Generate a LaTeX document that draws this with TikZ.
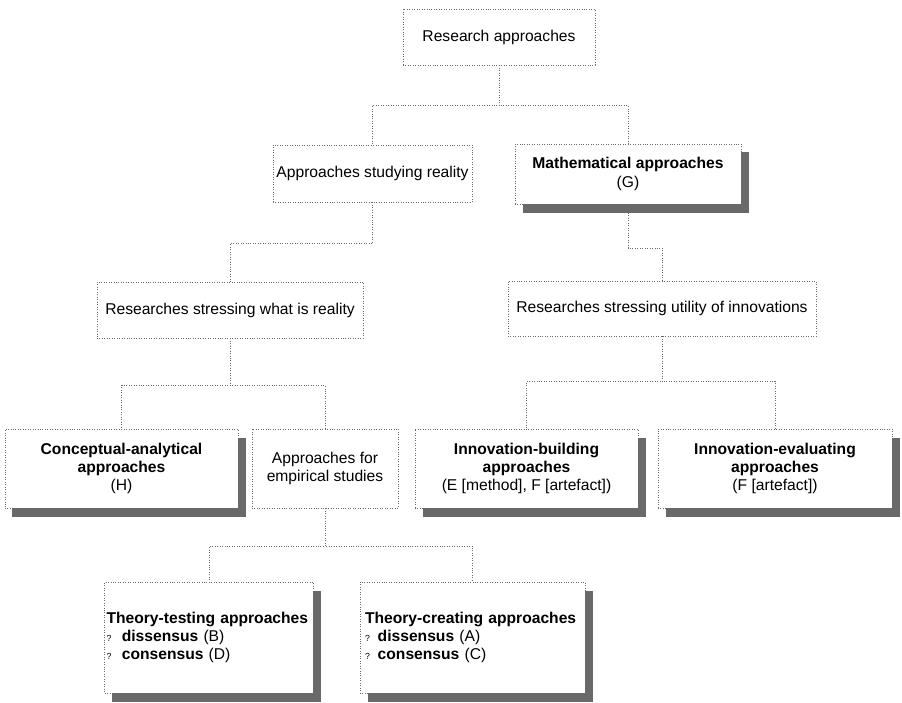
\documentclass[tikz,border=0pt]{standalone}
\usepackage{fontspec}
\setmainfont{Liberation Sans}
\usetikzlibrary{positioning,shadows}
\definecolor{edgecol}{RGB}{105,105,105}
\definecolor{shadecol}{RGB}{105,105,105}

\begin{document}
\begin{tikzpicture}[
  bx/.style={rectangle, draw=edgecol, densely dotted, thin, fill=white,
             font=\fontsize{8.9}{10.4}\selectfont, align=center, inner sep=2pt},
  sh/.style={bx, drop shadow={shadow xshift=0.15cm, shadow yshift=-0.17cm,
             fill=shadecol, opacity=1}},
  ln/.style={draw=edgecol, densely dotted, thin},
]
\useasboundingbox (0,0) rectangle (18.04,-14.06);

\node[bx, minimum width=3.84cm, minimum height=1.12cm] (ra)   at (9.98,-0.74) {Research approaches};
\node[bx, minimum width=3.86cm, minimum height=1.14cm] (real) at (7.45,-3.47) {Approaches studying reality};
\node[sh, minimum width=4.52cm, minimum height=1.2cm]  (math) at (12.56,-3.48) {\textbf{Mathematical approaches}\\(G)};
\node[bx, minimum width=5.32cm, minimum height=1.12cm] (what) at (4.6,-6.2) {Researches stressing what is reality};
\node[bx, minimum width=6.16cm, minimum height=1.1cm]  (util) at (13.24,-6.17) {Researches stressing utility of innovations};

\node[sh, minimum width=4.66cm, minimum height=1.58cm] (concept) at (2.43,-9.37)
  {\textbf{Conceptual-analytical}\\\textbf{approaches}\\(H)};
\node[bx, minimum width=2.92cm, minimum height=1.58cm] (empir) at (6.5,-9.37)
  {Approaches for\\empirical studies};
\node[sh, minimum width=4.46cm, minimum height=1.58cm] (build) at (10.53,-9.37)
  {\textbf{Innovation-building}\\\textbf{approaches}\\(E [method], F [artefact])};
\node[sh, minimum width=4.68cm, minimum height=1.58cm] (evalu) at (15.5,-9.37)
  {\textbf{Innovation-evaluating}\\\textbf{approaches}\\(F [artefact])};

\node[sh, minimum width=4.16cm, minimum height=2.22cm, text width=4.1cm, inner xsep=1pt, align=left] (test) at (4.18,-12.75)
  {\textbf{Theory-testing approaches}\\{\tiny ?}\ \ \textbf{dissensus} (B)\\{\tiny ?}\ \ \textbf{consensus} (D)};
\node[sh, minimum width=4.5cm, minimum height=2.22cm, text width=4.3cm, align=left] (create) at (9.45,-12.75)
  {\textbf{Theory-creating approaches}\\{\tiny ?} \textbf{dissensus} (A)\\{\tiny ?} \textbf{consensus} (C)};

% tree links
\foreach \a/\b/\d in {ra/real/0.8, ra/math/0.8, real/what/0.82,
                      what/concept/0.94, what/empir/0.94,
                      util/build/0.9, util/evalu/0.9,
                      empir/test/0.76, empir/create/0.76}
  \draw[ln] (\a.south) -- ++(0,-\d) -| (\b.north);
\draw[ln] ([yshift=-0.17cm]math.south) -- ++(0,-0.7) -| (util.north);
\end{tikzpicture}
\end{document}
